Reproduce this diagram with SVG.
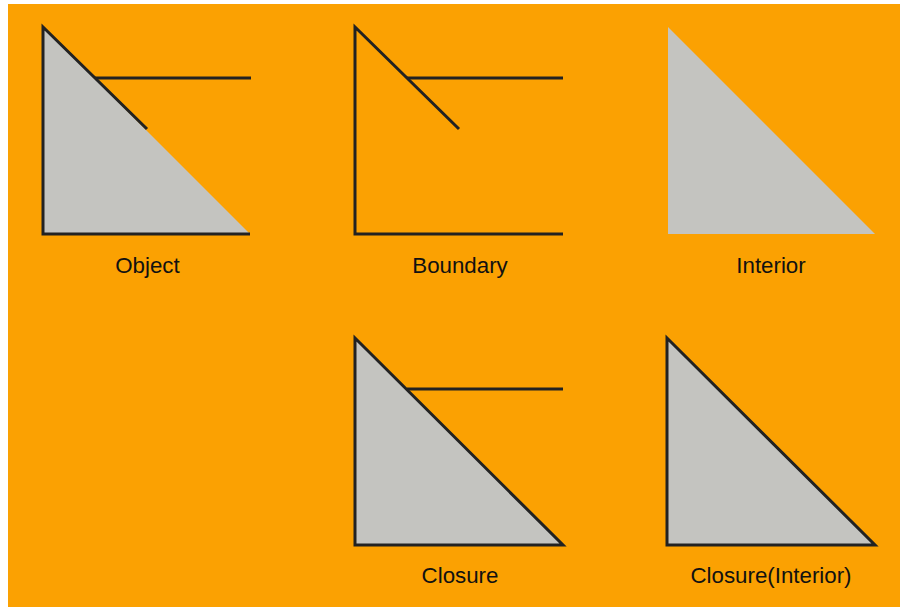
<svg xmlns="http://www.w3.org/2000/svg" width="900" height="607" viewBox="0 0 900 607">
<style>
.bg{fill:#fba102}
.fill{fill:#c4c4c0;stroke:none}
.ln{fill:none;stroke:#222;stroke-width:3;stroke-linecap:butt;stroke-linejoin:miter}
.tri{fill:#c4c4c0;stroke:#222;stroke-width:3;stroke-linejoin:miter}
.lbl{font-family:"Liberation Sans",Arial,sans-serif;font-size:22.3px;fill:#111;text-anchor:middle}
</style>
<rect x="0" y="0" width="900" height="607" fill="#fff"/>
<rect class="bg" x="8" y="4" width="892" height="603"/>
<g id="object">
<polygon class="fill" points="43,27 43,234 250,234"/>
<polyline class="ln" points="147,129 43,27 43,234 250,234"/>
<line class="ln" x1="95" y1="78" x2="251" y2="78"/>
<text class="lbl" x="147.5" y="272.5">Object</text>
</g>
<g id="boundary">
<polyline class="ln" points="459,129 355,27 355,234 563,234"/>
<line class="ln" x1="407" y1="78" x2="563" y2="78"/>
<text class="lbl" x="460" y="272.5">Boundary</text>
</g>
<g id="interior">
<polygon class="fill" points="668,27 668,234 875,234"/>
<text class="lbl" x="771" y="272.5">Interior</text>
</g>
<g id="closure">
<polygon class="tri" points="355,338 355,545 563,545"/>
<line class="ln" x1="407" y1="389" x2="563" y2="389"/>
<text class="lbl" x="460" y="583">Closure</text>
</g>
<g id="closure-interior">
<polygon class="tri" points="667,338 667,545 875,545"/>
<text class="lbl" x="771" y="583">Closure(Interior)</text>
</g>
<g id="connectors"/>
</svg>
